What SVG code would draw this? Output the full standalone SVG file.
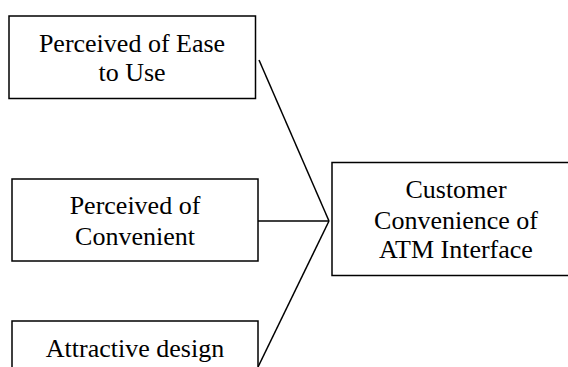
<svg xmlns="http://www.w3.org/2000/svg" width="568" height="367" viewBox="0 0 568 367">
<rect width="568" height="367" fill="#fff"/>
<g id="connectors" stroke="#000" stroke-width="1.5" fill="none">
<line x1="259" y1="60" x2="329" y2="221"/>
<line x1="258" y1="221" x2="329" y2="221"/>
<line x1="258" y1="367" x2="329" y2="221"/>
</g>
<g id="nodes" font-family="Liberation Serif, serif" font-size="26" text-anchor="middle" fill="#000">
<g id="node-ease">
<rect x="9" y="16" width="246.5" height="82.5" fill="#fff" stroke="#000" stroke-width="1.5"/>
<text x="132" y="52">Perceived of Ease</text>
<text x="132" y="81">to Use</text>
</g>
<g id="node-convenient">
<rect x="12" y="179" width="246" height="82" fill="#fff" stroke="#000" stroke-width="1.5"/>
<text x="135" y="214">Perceived of</text>
<text x="135" y="245">Convenient</text>
</g>
<g id="node-design">
<rect x="12" y="321" width="246" height="60" fill="#fff" stroke="#000" stroke-width="1.5"/>
<text x="135" y="357">Attractive design</text>
</g>
<g id="node-customer">
<rect x="332" y="162.5" width="250" height="113" fill="#fff" stroke="#000" stroke-width="1.5"/>
<text x="456" y="198">Customer</text>
<text x="456" y="229">Convenience of</text>
<text x="456" y="258">ATM Interface</text>
</g>
</g>
</svg>
